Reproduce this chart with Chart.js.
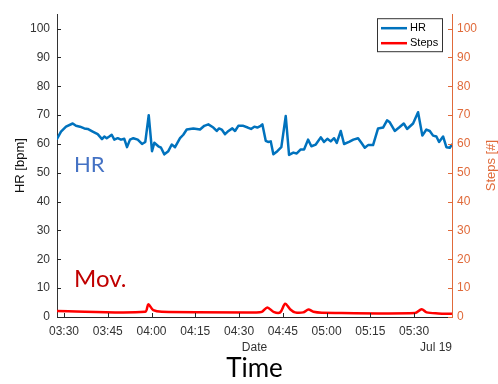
<!DOCTYPE html>
<html>
<head>
<meta charset="utf-8">
<script src="https://cdn.jsdelivr.net/npm/chart.js@4"></script>
<style>
  html, body { margin: 0; padding: 0; background: #fff; }
</style>
</head>
<body>
<canvas id="grafico" width="498" height="384"></canvas>
<script>
// minutos depois das 03:30
const hrMin = [-2.4, -1.03, 0.69, 2.98, 4.11, 5.49, 6.96, 8.13, 9.84, 11.55, 13.03, 13.82, 14.64, 15.53, 16.35, 17.25, 18.41, 19.54, 20.67, 21.6, 22.63, 23.76, 25.27, 26.74, 27.87, 29.04, 30.17, 30.96, 32.33, 33.26, 34.39, 35.76, 36.93, 38.06, 39.77, 40.9, 42.07, 43.2, 44.33, 45.5, 46.63, 48.1, 49.47, 51.19, 52.35, 53.14, 54.07, 55.2, 56.12, 57.7, 58.63, 59.76, 61.47, 62.98, 64.11, 65.24, 66.27, 67.44, 67.99, 69.15, 69.94, 70.87, 71.76, 73.13, 74.5, 76.01, 77.14, 78.62, 79.78, 81.15, 82.29, 83.66, 84.79, 86.3, 88.01, 89.14, 90.27, 91.44, 92.57, 93.5, 94.87, 96.0, 97.71, 99.19, 100.8, 101.93, 103.1, 104.23, 105.94, 107.66, 109.37, 110.74, 111.67, 113.38, 114.86, 116.47, 117.6, 119.66, 121.37, 122.84, 124.22, 125.38, 126.51, 127.65, 128.57, 129.94, 131.07, 132.24, 133];
const hrBpm = [61.8, 64.3, 66, 67.1, 66.3, 66, 65.4, 65.2, 64.3, 63.4, 61.7, 62.6, 62, 62.6, 63.2, 61.5, 62, 61.5, 61.8, 58.9, 61.5, 62, 61.5, 60, 60.7, 70, 57.5, 60.4, 59.2, 58.7, 56.4, 57.5, 59.8, 58.9, 62, 63.2, 65, 65.2, 65.4, 65.2, 65, 66.3, 66.8, 65.7, 64.5, 65.4, 65, 63.4, 64.3, 65.4, 64.5, 66.3, 66.3, 65.7, 65.2, 66, 65.7, 66.3, 66.8, 61.1, 60.7, 60.9, 56.4, 57.5, 58.9, 69.7, 56.2, 57, 56.7, 58.1, 58.1, 61.5, 59.2, 59.8, 62.3, 60.7, 61.8, 60.9, 62, 60.4, 64.5, 60, 60.7, 61.5, 62, 60.4, 58.7, 59.6, 59.6, 65.4, 65.7, 68.2, 67.5, 64.5, 65.7, 67.1, 65.2, 67.1, 71, 62.9, 65, 64.5, 62.9, 62.6, 60.7, 62.6, 58.9, 58.7, 59.8];

const stepMin = [-2.4, 27.8, 28.9, 30.6, 33.5, 65.5, 67.8, 69.7, 71.8, 74.1, 75.8, 77.5, 79.2, 82.0, 83.8, 85.5, 88.4, 120.3, 122.6, 124.3, 128.3, 133];
const stepCount = [2.1, 1.8, 4.4, 2.4, 1.8, 1.6, 1.8, 3.3, 1.8, 1.6, 4.6, 2.7, 1.6, 1.6, 2.6, 1.8, 1.5, 1.35, 2.7, 1.6, 1.25, 1.1];

const xTickLabels = ['03:30', '03:45', '04:00', '04:15', '04:30', '04:45', '05:00', '05:15', '05:30'];
const yTickValues = [0, 10, 20, 30, 40, 50, 60, 70, 80, 90, 100];

const azul = '#0072BD';
const vermelho = '#FF0000';
const laranja = '#E06A3A';
const cinza = '#262626';
const fonte = "'Liberation Sans', Arial, sans-serif";

function paraMinutos(txt) {
  const [h, m] = txt.split(':').map(Number);
  return h * 60 + m - 210;
}

const extras = {
  id: 'extras',
  afterDraw(chart) {
    const c = chart.ctx;
    const a = chart.chartArea;
    const sx = chart.scales.x, yl = chart.scales.y, yr = chart.scales.y1;
    c.save();
    c.lineWidth = 1;
    // ticks para dentro
    c.strokeStyle = cinza;
    c.beginPath();
    yl.ticks.forEach(t => {
      const p = Math.round(yl.getPixelForValue(t.value)) + 0.5;
      c.moveTo(a.left, p); c.lineTo(a.left + 4, p);
    });
    sx.ticks.forEach(t => {
      const p = Math.round(sx.getPixelForValue(t.value)) + 0.5;
      c.moveTo(p, a.bottom); c.lineTo(p, a.bottom - 4);
    });
    c.stroke();
    c.strokeStyle = laranja;
    c.beginPath();
    yr.ticks.forEach(t => {
      const p = Math.round(yr.getPixelForValue(t.value)) + 0.5;
      c.moveTo(a.right, p); c.lineTo(a.right - 4, p);
    });
    c.stroke();

    const meioY = (a.top + a.bottom) / 2;
    // titulos dos eixos
    c.font = '13px ' + fonte;
    c.textAlign = 'center';
    c.textBaseline = 'middle';
    c.fillStyle = '#111';
    c.save(); c.translate(20, meioY); c.rotate(-Math.PI / 2); c.fillText('HR [bpm]', 0, 0); c.restore();
    c.fillStyle = laranja;
    c.save(); c.translate(491, meioY); c.rotate(-Math.PI / 2); c.fillText('Steps [#]', 0, 0); c.restore();

    c.font = '12px ' + fonte;
    c.fillStyle = '#333';
    c.fillText('Date', (a.left + a.right) / 2, 348);
    c.textAlign = 'right';
    c.fillText('Jul 19', a.right, 348);

    c.textAlign = 'center';
    c.textBaseline = 'alphabetic';
    c.fillStyle = '#000';
    c.font = '26px Lato, sans-serif';
    c.fillText('Time', (a.left + a.right) / 2, 377);

    c.textAlign = 'left';
    c.font = '22px Lato, sans-serif';
    c.fillStyle = '#4472C4';
    c.fillText('HR', 74, 172);
    c.font = '24px Lato, sans-serif';
    c.fillStyle = '#C00000';
    c.fillText('Mov.', 74, 287);

    // legenda
    const lx = a.right - 75, ly = a.top + 4, lw = 65, lh = 33;
    c.fillStyle = '#fff';
    c.fillRect(lx, ly, lw, lh);
    c.strokeStyle = '#333';
    c.strokeRect(lx + 0.5, ly + 0.5, lw, lh);
    c.font = '11px ' + fonte;
    c.textBaseline = 'middle';
    chart.data.datasets.forEach((ds, i) => {
      const yy = ly + 10 + i * 15;
      c.strokeStyle = ds.borderColor;
      c.lineWidth = 2.5;
      c.beginPath(); c.moveTo(lx + 4, yy); c.lineTo(lx + 30, yy); c.stroke();
      c.fillStyle = '#000';
      c.fillText(ds.label, lx + 33, yy);
    });
    c.restore();
  }
};

const eixoY = (cor, lado, largura, pad) => ({
  type: 'linear',
  position: lado,
  min: 0,
  max: 105,
  afterBuildTicks: s => { s.ticks = yTickValues.map(v => ({ value: v })); },
  afterFit: s => { s.width = largura; },
  grid: { drawOnChartArea: false, drawTicks: false },
  border: { color: cor, width: 1 },
  ticks: { color: cor, padding: pad, font: { family: fonte, size: 12 } }
});

new Chart(document.getElementById('grafico'), {
  type: 'line',
  data: {
    datasets: [{
      label: 'HR',
      data: hrMin.map((m, i) => ({ x: m, y: hrBpm[i] })),
      borderColor: azul,
      borderWidth: 2.5,
      borderJoinStyle: 'round',
      borderCapStyle: 'round',
      pointRadius: 0,
      tension: 0,
      yAxisID: 'y'
    }, {
      label: 'Steps',
      data: stepMin.map((m, i) => ({ x: m, y: stepCount[i] })),
      borderColor: vermelho,
      borderWidth: 2.5,
      borderJoinStyle: 'round',
      pointRadius: 0,
      tension: 0.3,
      yAxisID: 'y1'
    }]
  },
  options: {
    responsive: false,
    animation: false,
    layout: { padding: { top: 7, left: 0, right: 0, bottom: 0 } },
    plugins: { legend: { display: false }, tooltip: { enabled: false } },
    scales: {
      x: {
        type: 'linear',
        min: -2.4,
        max: 133,
        afterBuildTicks: s => { s.ticks = xTickLabels.map(l => ({ value: paraMinutos(l) })); },
        afterFit: s => { s.height = 67; },
        grid: { drawOnChartArea: false, drawTicks: false },
        border: { color: cinza, width: 1 },
        ticks: {
          color: '#333',
          padding: 7,
          maxRotation: 0,
          font: { family: fonte, size: 12 },
          callback: (v, i) => xTickLabels[i]
        }
      },
      y: eixoY('#333', 'left', 57, 7),
      y1: eixoY(laranja, 'right', 46, 5)
    }
  },
  plugins: [extras]
});
</script>
</body>
</html>
